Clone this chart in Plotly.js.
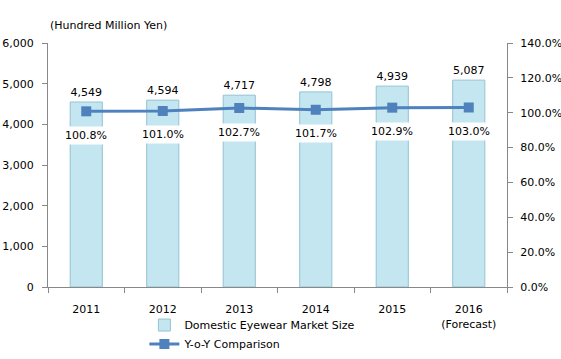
<!DOCTYPE html>
<html><head><meta charset="utf-8">
<script src="https://cdn.plot.ly/plotly-3.0.1.min.js"></script>
<style>html,body{margin:0;padding:0;background:#fff;}#chart{width:561px;height:359px;}</style>
</head><body><div id="chart"></div>
<script>
const categories = ["2011","2012","2013","2014","2015","2016<br>(Forecast)"];
const marketSize = [4549,4594,4717,4798,4939,5087];
const yoy = [1.008,1.010,1.027,1.017,1.029,1.030];
const yoyLabels = ["100.8%","101.0%","102.7%","101.7%","102.9%","103.0%"];

const font = {family:"DejaVu Sans, Verdana, sans-serif", size:11, color:"#000"};
const idx = categories.map((c,i)=>i);
const bounds = [-0.5].concat(idx.map(i=>i+0.5));

const traces = [
  {type:"bar", x:idx, y:marketSize, name:"Domestic Eyewear Market Size",
   marker:{color:"#C3E6F0", line:{color:"#93C3D3", width:1}},
   width:0.42, text:marketSize.map(v=>v.toLocaleString("en-US")), textposition:"outside",
   textfont:font, cliponaxis:false, hoverinfo:"skip"},
  {type:"scatter", mode:"lines+markers", x:idx, y:yoy, yaxis:"y2", name:"Y-o-Y Comparison",
   line:{color:"#4F81BD", width:3}, marker:{symbol:"square", size:10, color:"#4F81BD"}}
];

const annotations = idx.map(i=>({
  x:i, y:yoy[i], xref:"x", yref:"y2", text:yoyLabels[i], showarrow:false,
  yshift:-24, bgcolor:"#fff", font:font, borderpad:2
}));
annotations.push({xref:"paper", yref:"paper", x:0.0, y:1.0, yshift:18, xanchor:"left", yanchor:"middle",
  text:"(Hundred Million Yen)", showarrow:false, font:font});

const layout = {
  width:561, height:359, margin:{l:48, r:54, t:43, b:72, autoexpand:false},
  paper_bgcolor:"#fff", plot_bgcolor:"#fff", font:font, showlegend:true,
  xaxis:{range:[-0.5,5.5], tickmode:"array", tickvals:idx, ticktext:categories, ticks:"",
    ticklabelstandoff:12, automargin:false,
    showline:true, linecolor:"#888", linewidth:1, showgrid:false, zeroline:false, tickfont:font,
    minor:{tickmode:"array", tickvals:bounds, ticks:"outside", ticklen:5, tickcolor:"#888", showgrid:false}},
  yaxis:{range:[0,6000], dtick:1000, tickformat:",", showline:true, linecolor:"#888", ticks:"outside",
    ticklen:5, tickcolor:"#888", showgrid:false, zeroline:false, tickfont:font, ticklabelstandoff:6, automargin:false},
  yaxis2:{range:[0,1.4], dtick:0.2, tickformat:".1%", overlaying:"y", side:"right", showline:true,
    linecolor:"#888", ticks:"outside", ticklen:5, tickcolor:"#888", showgrid:false, zeroline:false, tickfont:font,
    ticklabelstandoff:5, automargin:false},
  legend:{orientation:"v", x:0.21, y:0.135, xref:"paper", yref:"container", xanchor:"left", yanchor:"top", font:font,
    bgcolor:"rgba(0,0,0,0)"},
  annotations:annotations
};
Plotly.newPlot("chart", traces, layout, {staticPlot:true});
</script></body></html>
